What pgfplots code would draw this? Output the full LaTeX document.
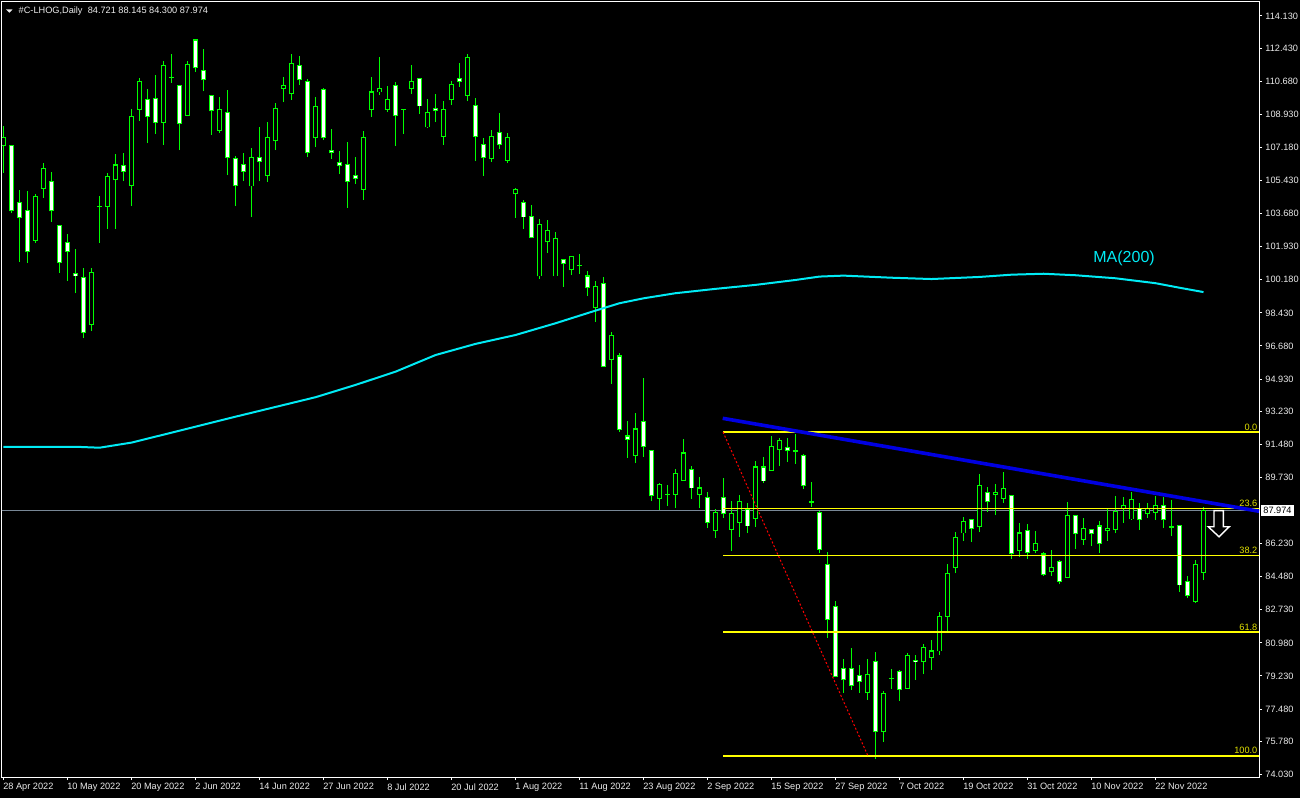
\documentclass[border=0pt]{standalone}
\usepackage{fontspec}
\setmainfont{Liberation Sans}
\usepackage{pgfplots}
\pgfplotsset{compat=1.18}
\usepackage{pgfplotstable}

\definecolor{candle}{RGB}{0,255,0}
\definecolor{maline}{RGB}{0,235,245}
\definecolor{fib}{RGB}{255,255,0}
\definecolor{fibtext}{RGB}{225,225,0}
\definecolor{trend}{RGB}{0,0,225}
\definecolor{pricegray}{RGB}{120,135,150}
\definecolor{axtext}{RGB}{235,235,235}

\newcommand\lbl{\fontsize{4.6}{5.5}\selectfont}

% daily candles, bar index from 28 Apr 2022
\pgfplotstableread{
i o h l c
0 107.26 108.31 105.83 107.73
1 107.26 107.30 103.71 103.82
2 104.29 104.93 101.12 103.45
3 103.82 104.88 101.07 101.65
4 102.28 104.72 102.13 104.56
5 105.03 106.36 104.51 106.04
6 105.40 105.88 103.24 103.82
7 103.03 103.10 100.54 101.12
8 102.13 102.60 100.12 101.70
9 100.49 101.81 99.48 100.38
10 100.28 100.80 97.10 97.37
11 97.84 100.80 97.47 100.54
12 104.08 104.61 102.13 104.06
13 104.08 105.83 102.87 105.62
14 105.46 106.83 102.87 106.25
15 106.20 106.89 105.40 105.93
16 105.19 109.21 104.08 108.84
17 109.21 110.85 108.58 110.64
18 109.69 110.27 107.41 108.84
19 109.79 111.01 107.89 108.52
20 108.52 111.75 107.31 111.49
21 110.90 112.12 110.59 110.88
22 110.43 110.45 107.04 108.42
23 108.89 111.75 108.84 111.59
24 112.86 112.88 111.17 111.38
25 111.27 112.39 110.16 110.75
26 109.90 109.92 107.84 109.11
27 108.10 109.85 107.94 109.16
28 109.05 110.22 105.72 106.67
29 106.57 106.73 104.08 105.19
30 106.30 106.89 105.40 105.93
31 105.14 107.15 103.50 106.67
32 106.67 108.26 105.40 106.41
33 105.72 108.52 105.35 107.68
34 107.52 109.53 107.04 109.26
35 110.32 110.90 109.58 110.43
36 110.01 112.12 109.69 111.64
37 111.49 112.01 110.48 110.75
38 110.69 110.80 106.67 106.89
39 107.68 109.85 107.20 109.32
40 110.22 110.32 107.57 107.68
41 107.04 108.15 106.57 106.89
42 106.36 106.99 105.77 106.20
43 106.30 107.47 103.98 105.40
44 105.67 106.67 105.25 105.56
45 104.98 108.05 104.40 107.73
46 109.16 110.90 108.79 110.11
47 110.11 111.96 109.95 110.32
48 109.21 110.43 109.05 109.69
49 110.48 110.64 107.26 108.89
50 109.21 109.23 107.89 109.19
51 110.27 111.54 110.01 110.69
52 110.85 110.87 108.95 109.37
53 108.26 109.74 108.21 109.05
54 109.26 110.01 108.52 109.11
55 107.78 109.63 107.31 109.16
56 109.69 110.69 109.42 110.53
57 110.85 111.64 110.38 110.69
58 109.95 112.12 109.63 111.91
59 109.42 109.79 106.46 107.78
60 107.31 107.68 105.67 106.67
61 106.57 108.10 106.41 107.78
62 107.99 109.00 107.10 107.31
63 106.51 107.94 106.36 107.68
64 104.72 105.03 103.45 104.98
65 104.29 104.40 102.87 103.50
66 103.55 104.14 102.44 102.44
67 100.38 103.39 100.22 103.08
68 102.18 103.34 101.60 102.81
69 100.38 102.71 100.38 102.34
70 101.23 101.25 99.80 101.02
71 100.70 101.44 100.43 101.39
72 100.96 101.54 100.49 100.94
73 100.38 100.64 99.32 99.75
74 98.69 100.12 97.95 99.85
75 99.96 100.33 95.57 95.62
76 95.99 97.42 94.67 97.21
77 96.15 96.31 92.13 92.24
78 91.92 92.71 90.76 91.76
79 90.91 93.14 90.49 92.29
80 92.71 94.99 90.81 91.39
81 91.13 91.15 88.48 88.75
82 88.64 89.43 88.01 89.33
83 88.85 89.33 88.22 88.83
84 88.85 90.17 88.11 89.96
85 89.59 91.76 89.59 91.02
86 90.17 90.33 88.59 89.17
87 88.85 89.75 88.11 89.17
88 88.69 88.96 87.05 87.37
89 86.90 88.06 86.53 87.85
90 88.69 89.70 87.58 87.80
91 87.00 88.48 85.84 87.80
92 87.37 88.80 86.58 88.43
93 88.01 88.38 86.79 87.16
94 87.58 90.60 87.11 90.28
95 90.28 90.81 89.43 89.54
96 90.12 91.92 90.12 91.34
97 91.18 91.81 90.33 91.66
98 91.29 91.81 90.54 91.13
99 91.13 92.03 90.44 91.11
100 90.91 90.97 89.12 89.28
101 88.43 89.49 88.16 88.41
102 87.85 87.95 85.73 85.94
103 85.10 85.78 81.24 82.24
104 82.88 83.19 79.18 79.18
105 79.65 80.13 78.33 79.02
106 79.60 80.71 78.49 78.75
107 79.28 79.81 78.33 78.96
108 78.33 80.13 77.96 79.33
109 80.02 80.50 74.84 76.27
110 76.27 78.44 75.74 78.28
111 79.12 79.60 78.54 79.10
112 79.49 79.55 77.91 78.54
113 78.59 80.44 78.59 80.29
114 80.07 80.34 79.02 79.97
115 79.97 80.92 79.33 80.76
116 80.23 81.13 79.55 80.55
117 80.55 82.61 80.34 82.35
118 82.40 85.15 81.50 84.67
119 84.99 86.84 84.67 86.53
120 86.79 87.64 86.37 87.42
121 87.48 87.53 86.31 87.05
122 87.11 89.91 86.84 89.28
123 88.91 89.22 87.90 88.43
124 88.80 89.38 87.74 88.91
125 88.64 90.02 88.38 89.12
126 88.75 88.80 85.42 85.73
127 85.89 87.32 85.52 86.79
128 86.90 87.27 85.42 85.78
129 85.89 86.90 85.73 86.21
130 85.68 85.78 84.52 84.62
131 84.73 85.89 84.52 84.94
132 85.26 85.36 84.09 84.25
133 84.46 88.43 84.41 87.74
134 87.69 87.71 85.94 86.74
135 86.47 87.58 86.16 87.05
136 87.00 87.02 86.10 86.74
137 87.16 87.43 85.73 86.26
138 86.90 88.06 86.37 87.05
139 87.00 88.75 86.79 87.95
140 88.06 88.69 87.32 88.27
141 87.53 88.96 87.48 88.54
142 88.11 88.38 86.95 87.48
143 87.80 88.38 87.58 88.06
144 87.90 88.75 87.48 88.27
145 88.27 88.69 87.05 87.48
146 87.11 88.54 86.63 87.09
147 87.21 87.23 83.67 84.04
148 84.20 84.52 83.35 83.46
149 83.19 85.36 83.09 85.10
150 84.721 88.145 84.300 87.974
}\ohlc

% MA(200)
\pgfplotstableread{
i ma
0 91.35
9 91.35
12 91.30
16 91.57
22 92.20
29 92.94
39 93.97
44 94.62
49 95.32
54 96.20
59 96.79
64 97.26
69 97.88
74 98.55
77 98.94
80 99.20
84 99.47
89 99.70
94 99.91
99 100.17
102 100.35
105 100.40
111 100.29
116 100.22
122 100.33
126 100.45
130 100.50
134 100.42
139 100.26
144 100.00
147 99.76
150 99.53
}\matab

\begin{document}
\begin{tikzpicture}[x=1pt,y=1pt]
\useasboundingbox (0,0) rectangle (650,399);
\fill[black] (0,0) rectangle (650,399);
\begin{axis}[
    at={(1pt,10.5pt)}, anchor=south west,
    scale only axis, width=628.5pt, height=387.5pt,
    xmin=-0.1875, xmax=156.94, ymin=73.887, ymax=114.87,
    axis line style={white, line width=0.5pt},
    clip mode=individual,
    tick align=outside, major tick length=1.5pt,
    tick style={white, line width=0.5pt},
    xtick pos=left, ytick pos=right,
    xtick={0,8,...,144},
    xticklabels={28 Apr 2022,10 May 2022,20 May 2022,2 Jun 2022,14 Jun 2022,27 Jun 2022,8 Jul 2022,20 Jul 2022,1 Aug 2022,11 Aug 2022,23 Aug 2022,2 Sep 2022,15 Sep 2022,27 Sep 2022,7 Oct 2022,19 Oct 2022,31 Oct 2022,10 Nov 2022,22 Nov 2022},
    xticklabel style={font=\lbl, text=axtext, anchor=north west, inner sep=0pt, xshift=-0.3pt, yshift=-1.5pt},
    ytick={74.03,75.78,77.48,79.23,80.98,82.73,84.48,86.23,89.73,91.48,93.23,94.93,96.68,98.43,100.18,101.93,103.68,105.43,107.18,108.93,110.68,112.43,114.13},
    yticklabels={74.030,75.780,77.480,79.230,80.980,82.730,84.480,86.230,89.730,91.480,93.230,94.930,96.680,98.430,100.180,101.930,103.680,105.430,107.180,108.930,110.680,112.430,114.130},
    yticklabel style={font=\lbl, text=axtext, anchor=west, inner sep=0pt, xshift=1.5pt},
]
% current price line
\addplot[pricegray, line width=0.5pt, forget plot] coordinates {(-1,87.974) (158,87.974)};

% wicks
\addplot[draw=none, mark=none, forget plot,
    error bars/.cd, y dir=plus, y explicit, error mark=none,
    error bar style={draw=candle, line width=0.5pt}]
    table[x=i, y=l, y error plus expr=\thisrow{h}-\thisrow{l}] {\ohlc};
% body outline
\addplot[draw=none, mark=none, forget plot,
    error bars/.cd, y dir=plus, y explicit, error mark=none,
    error bar style={draw=candle, line width=2.5pt}]
    table[x=i, y expr={min(\thisrow{o},\thisrow{c})-0.026},
          y error plus expr={abs(\thisrow{c}-\thisrow{o})+0.053}] {\ohlc};
% bear bodies (white)
\addplot[draw=none, mark=none, forget plot,
    error bars/.cd, y dir=plus, y explicit, error mark=none,
    error bar style={draw=white, line width=1.5pt}]
    table[x=i, y expr={min(\thisrow{o},\thisrow{c})+0.026},
          y error plus expr={\thisrow{o}>\thisrow{c} ? max(\thisrow{o}-\thisrow{c}-0.053,0) : 0}] {\ohlc};
% bull bodies (black)
\addplot[draw=none, mark=none, forget plot,
    error bars/.cd, y dir=plus, y explicit, error mark=none,
    error bar style={draw=black, line width=1.5pt}]
    table[x=i, y expr={min(\thisrow{o},\thisrow{c})+0.026},
          y error plus expr={\thisrow{c}>\thisrow{o} ? max(\thisrow{c}-\thisrow{o}-0.053,0) : 0}] {\ohlc};

% MA(200)
\addplot[maline, line width=1pt, mark=none] table[x=i, y=ma] {\matab};

% Fibonacci levels
\pgfplotsinvokeforeach{92.13,88.09,85.59,81.55,75.00}{
  \addplot[fib, line width=0.8pt, forget plot] coordinates {(89.94,#1) (158,#1)};
}
\addplot[red, line width=0.5pt, dash pattern=on 1pt off 1pt, forget plot]
    coordinates {(89.94,92.13) (108.06,75.00)};

% trend line
\addplot[trend, line width=1.8pt, forget plot] coordinates {(89.9,92.855) (156.94,87.94)};

% arrow
\draw[white, line width=0.7pt, fill=black, line join=miter]
  (axis cs:151.31,87.97) -- (axis cs:152.48,87.97) -- (axis cs:152.48,87.12)
  -- (axis cs:153.22,87.12) -- (axis cs:151.94,86.59) -- (axis cs:150.6,87.12)
  -- (axis cs:151.31,87.12) -- cycle;

\node[anchor=base east, inner sep=0pt, text=fibtext, font=\lbl, yshift=1pt] at (axis cs:156.78,92.13) {0.0};
\node[anchor=base east, inner sep=0pt, text=fibtext, font=\lbl, yshift=1pt] at (axis cs:156.78,88.09) {23.6};
\node[anchor=base east, inner sep=0pt, text=fibtext, font=\lbl, yshift=1pt] at (axis cs:156.78,85.59) {38.2};
\node[anchor=base east, inner sep=0pt, text=fibtext, font=\lbl, yshift=1pt] at (axis cs:156.78,81.55) {61.8};
\node[anchor=base east, inner sep=0pt, text=fibtext, font=\lbl, yshift=1pt] at (axis cs:156.78,75.00) {100.0};

\node[anchor=base west, inner sep=0pt, text=maline, font=\fontsize{8}{9}\selectfont] at (axis cs:136.19,101.07) {MA(200)};

\node[anchor=west, fill=white, text=black, font=\lbl, inner xsep=1pt, inner ysep=1pt, minimum height=5.6pt, xshift=1pt] at (axis cs:156.94,87.974) {87.974};
\end{axis}

\fill[axtext] (3,394.35) -- (6.35,394.35) -- (4.675,392.65) -- cycle;
\node[anchor=base west, inner sep=0pt, text=axtext, font=\lbl] at (9.15,392) {\#C-LHOG,Daily\hspace{2.6pt}84.721 88.145 84.300 87.974};
\end{tikzpicture}
\end{document}
